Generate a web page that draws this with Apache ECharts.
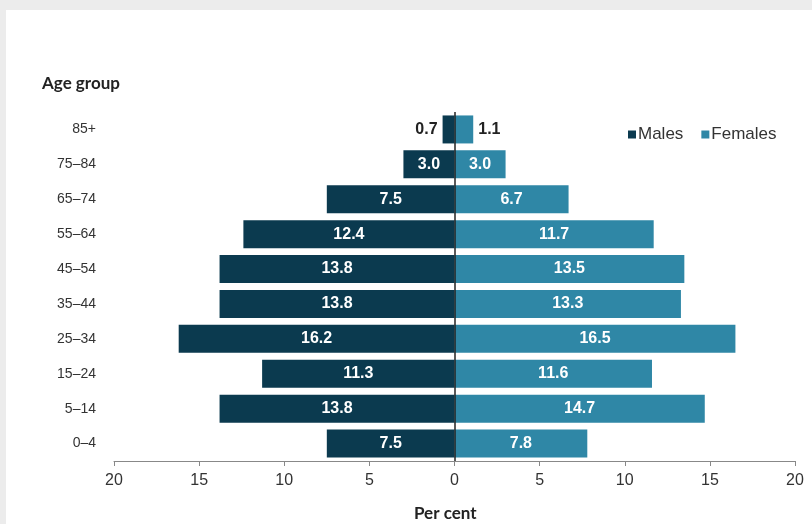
<!DOCTYPE html>
<html><head><meta charset="utf-8">
<script src="https://cdn.jsdelivr.net/npm/echarts@6/dist/echarts.min.js"></script>
<style>html,body{margin:0;padding:0;background:#fff}#c{width:812px;height:524px}</style>
</head><body><div id="c"></div>
<script>
const categories = ['0–4','5–14','15–24','25–34','35–44','45–54','55–64','65–74','75–84','85+'];
const males = [7.5, 13.8, 11.3, 16.2, 13.8, 13.8, 12.4, 7.5, 3.0, 0.7];
const females = [7.8, 14.7, 11.6, 16.5, 13.3, 13.5, 11.7, 6.7, 3.0, 1.1];
const xTicks = [-20, -15, -10, -5, 0, 5, 10, 15, 20];

const maleColor = '#0b3a4f';
const femaleColor = '#2f87a6';
const smallThreshold = 2;

const chart = echarts.init(document.getElementById('c'));
const lblFont = {fontFamily: 'Liberation Sans, Arial, sans-serif', fontSize: 16, fontWeight: 'bold'};

chart.setOption({
  backgroundColor: '#fff',
  animation: false,
  graphic: [
    {type: 'rect', shape: {x: 0, y: 0, width: 812, height: 10}, style: {fill: '#ececec'}, z: -10},
    {type: 'rect', shape: {x: 0, y: 0, width: 6, height: 524}, style: {fill: '#ececec'}, z: -10},
    {type: 'text', left: 42, top: 75, style: {text: 'Age group', font: 'bold 17px Lato, "Open Sans", sans-serif', fill: '#222'}},
    {type: 'text', left: 414, top: 505, style: {text: 'Per cent', font: 'bold 17px Lato, "Open Sans", sans-serif', fill: '#222'}}
  ],
  legend: {
    data: ['Males', 'Females'],
    left: 623, top: 121,
    icon: 'rect', itemWidth: 8, itemHeight: 8, itemGap: 18,
    textStyle: {fontFamily: 'Liberation Sans, Arial, sans-serif', fontSize: 17, color: '#333', padding: [0,0,0,-3]}
  },
  grid: {left: 114, right: 17, top: 112, bottom: 63},
  xAxis: {
    type: 'value', min: -20, max: 20, interval: 5,
    axisLine: {show: true, lineStyle: {color: '#888', width: 1}},
    axisTick: {show: true, length: 5, lineStyle: {color: '#888'}},
    splitLine: {show: false},
    axisLabel: {formatter: v => Math.abs(v), color: '#333', fontFamily: 'Liberation Sans, Arial, sans-serif', fontSize: 16, margin: 12}
  },
  yAxis: {
    type: 'category', data: categories,
    axisLine: {show: false}, axisTick: {show: false},
    axisLabel: {color: '#333', fontFamily: 'Liberation Sans, Arial, sans-serif', fontSize: 14, margin: 18, padding: [4,0,0,0]}
  },
  series: [
    {
      name: 'Males', type: 'bar', barWidth: 28, barGap: '-100%',
      itemStyle: {color: maleColor},
      data: males.map(v => ({
        value: -v,
        label: v < smallThreshold ? {position: 'left', color: '#222'} : {}
      })),
      label: Object.assign({show: true, position: 'inside', color: '#fff', formatter: p => Math.abs(p.value).toFixed(1)}, lblFont),
      markLine: {
        silent: true, symbol: 'none', label: {show: false},
        lineStyle: {color: '#222', width: 1.5, type: 'solid'},
        data: [{xAxis: 0}]
      }
    },
    {
      name: 'Females', type: 'bar', barWidth: 28,
      itemStyle: {color: femaleColor},
      data: females.map(v => ({
        value: v,
        label: v < smallThreshold ? {position: 'right', color: '#222'} : {}
      })),
      label: Object.assign({show: true, position: 'inside', color: '#fff', formatter: p => Math.abs(p.value).toFixed(1)}, lblFont)
    }
  ]
});
</script></body></html>
